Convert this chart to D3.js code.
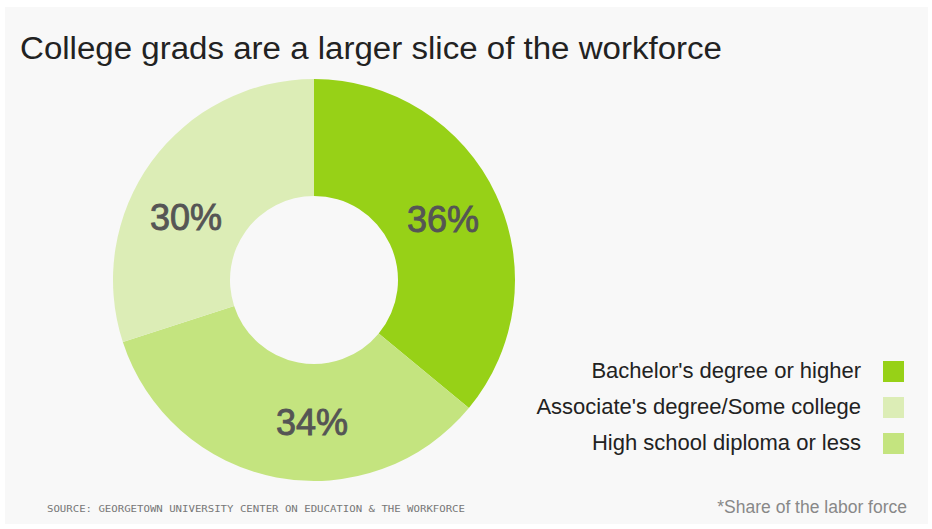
<!DOCTYPE html>
<html>
<head>
<meta charset="utf-8">
<script src="https://cdn.jsdelivr.net/npm/d3@7"></script>
<style>
  body { margin: 0; background: #fff; }
  text { font-family: "Liberation Sans", Arial, sans-serif; }
</style>
</head>
<body>
<div class="chart"></div>
<script>
var svgWidth = 932;
var svgHeight = 529;

// chart data
var categories = ["Bachelor's degree or higher", "High school diploma or less", "Associate's degree/Some college"];
var shares = [36, 34, 30];
var colors = ["#97d117", "#c4e47f", "#dcedb6"];

// legend order differs from slice order
var legendOrder = ["Bachelor's degree or higher", "Associate's degree/Some college", "High school diploma or less"];

var data = categories.map(function(c, i) {
  return { name: c, value: shares[i], color: colors[i] };
});

var svg = d3.select(".chart")
  .append("svg")
  .attr("width", svgWidth)
  .attr("height", svgHeight);

// light grey card
svg.append("rect")
  .attr("x", 5)
  .attr("y", 7)
  .attr("width", svgWidth - 9)
  .attr("height", svgHeight - 12)
  .attr("fill", "#f8f8f8");

svg.append("text")
  .attr("x", 20)
  .attr("y", 59)
  .attr("font-size", 31)
  .attr("fill", "#222")
  .attr("textLength", 702)
  .attr("lengthAdjust", "spacingAndGlyphs")
  .text("College grads are a larger slice of the workforce");

var outerR = 201;
var innerR = 84;

var pieGroup = svg.append("g")
  .attr("transform", "translate(314, 280)");

var pie = d3.pie()
  .sort(null)
  .value(d => d.value);

var arc = d3.arc()
  .innerRadius(innerR)
  .outerRadius(outerR);

var arcs = pie(data);

pieGroup.selectAll("path")
  .data(arcs)
  .enter()
  .append("path")
  .attr("d", arc)
  .attr("fill", d => d.data.color);

// percent labels near slice centroids (later slices' labels sit a bit counter-clockwise)
var labelR = (innerR + outerR) / 2;
var labelShift = 10 * Math.PI / 180;

pieGroup.selectAll("text.pct")
  .data(arcs)
  .enter()
  .append("text")
  .attr("class", "pct")
  .attr("transform", (d, i) => {
    var a = (d.startAngle + d.endAngle) / 2 - (i > 0 ? labelShift : 0);
    return `translate(${labelR * Math.sin(a)}, ${-labelR * Math.cos(a)})`;
  })
  .attr("dy", "0.35em")
  .attr("text-anchor", "middle")
  .attr("font-size", 36)
  .attr("fill", "#555")
  .attr("stroke", "#555")
  .attr("stroke-width", 0.9)
  .text(d => d.data.value + "%");

// legend
var legendY = d3.scalePoint()
  .domain(legendOrder)
  .range([371, 443]);

var legend = svg.append("g");

legendOrder.forEach(function(name) {
  var d = data.find(e => e.name === name);
  legend.append("text")
    .attr("x", 861)
    .attr("y", legendY(name) - 1)
    .attr("dy", "0.35em")
    .attr("text-anchor", "end")
    .attr("font-size", 22)
    .attr("fill", "#222")
    .text(name);
  legend.append("rect")
    .attr("x", 883)
    .attr("y", legendY(name) - 10)
    .attr("width", 21)
    .attr("height", 21)
    .attr("fill", d.color);
});

// footer
svg.append("text")
  .attr("x", 47)
  .attr("y", 512)
  .style("font-family", "'DejaVu Sans Mono', monospace")
  .style("font-size", "8px")
  .attr("fill", "#777")
  .attr("textLength", 418)
  .attr("lengthAdjust", "spacingAndGlyphs")
  .text("SOURCE: GEORGETOWN UNIVERSITY CENTER ON EDUCATION & THE WORKFORCE");

svg.append("text")
  .attr("x", 907)
  .attr("y", 513)
  .attr("text-anchor", "end")
  .attr("font-size", 17.5)
  .attr("fill", "#888")
  .text("*Share of the labor force");
</script>
</body>
</html>
